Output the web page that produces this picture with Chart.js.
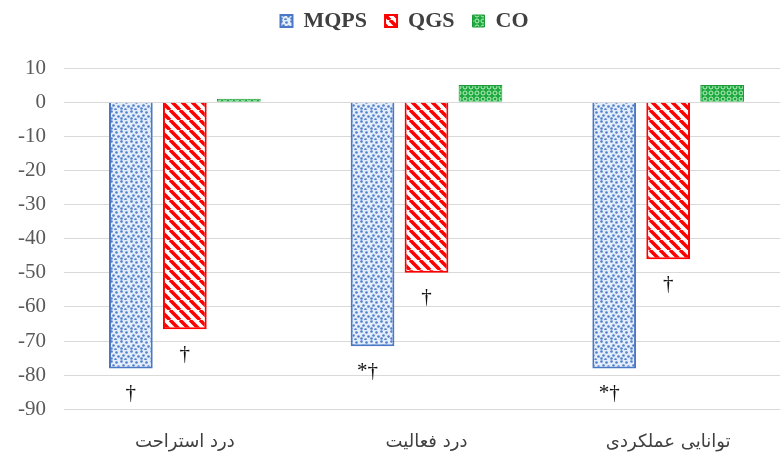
<!DOCTYPE html>
<html lang="fa">
<head>
    <meta charset="UTF-8">
    <title>MQPS / QGS / CO</title>
    <script src="https://cdn.jsdelivr.net/npm/chart.js"></script>
    <style>
        html, body { margin: 0; padding: 0; background: #fff; overflow: hidden; }
        .chart-box { width: 780px; height: 459px; overflow: hidden; }
    </style>
</head>
<body>
    <div class="chart-box">
        <!-- el área del gráfico sigue un poco más allá del borde derecho, como en el original -->
        <canvas id="painChart" width="789" height="459"></canvas>
    </div>

    <script>
        // Datos
        const categories = ['درد استراحت', 'درد فعالیت', 'توانایی عملکردی'];
        const mqpsValues = [-78, -71.5, -78];
        const qgsValues = [-66.5, -50, -46];
        const coValues = [1, 5, 5];
        const mqpsMarks = ['†', '*†', '*†'];
        const qgsMarks = ['†', '†', '†'];
        const yTicks = { min: -90, max: 10, step: 10 };

        // Patrones de relleno
        function dotPattern() {
            const c = document.createElement('canvas');
            c.width = 10; c.height = 10;
            const g = c.getContext('2d');
            g.fillStyle = '#e4edf9';
            g.fillRect(0, 0, 10, 10);
            g.fillStyle = '#4f7fc9';
            [[1, 1], [6, 2], [3, 5], [8, 6], [1, 8], [5, 9]].forEach(p => {
                g.beginPath();
                g.arc(p[0] + 0.5, p[1] + 0.5, 1.3, 0, Math.PI * 2);
                g.fill();
            });
            return g.createPattern(c, 'repeat');
        }

        function stripePattern() {
            const c = document.createElement('canvas');
            c.width = 10; c.height = 10;
            const g = c.getContext('2d');
            g.fillStyle = '#ffffff';
            g.fillRect(0, 0, 10, 10);
            g.strokeStyle = '#ff0000';
            g.lineWidth = 3.5;
            [-10, 0, 10].forEach(o => {
                g.beginPath();
                g.moveTo(o, 0);
                g.lineTo(o + 10, 10);
                g.stroke();
            });
            return g.createPattern(c, 'repeat');
        }

        function greenPattern() {
            const c = document.createElement('canvas');
            c.width = 6; c.height = 6;
            const g = c.getContext('2d');
            g.fillStyle = '#1eaa3f';
            g.fillRect(0, 0, 6, 6);
            g.strokeStyle = '#bdeec4';
            g.lineWidth = 1;
            g.beginPath();
            g.arc(3, 3, 2, 0, Math.PI * 2);
            g.stroke();
            return g.createPattern(c, 'repeat');
        }

        // Marcas bajo las barras (†, *†)
        const marksPlugin = {
            id: 'marks',
            afterDatasetsDraw(chart) {
                const ctx = chart.ctx;
                const sets = [[0, mqpsMarks], [1, qgsMarks]];
                ctx.save();
                ctx.fillStyle = '#111';
                ctx.font = '21px "Liberation Serif", serif';
                ctx.textAlign = 'center';
                ctx.textBaseline = 'middle';
                sets.forEach(([idx, marks]) => {
                    const meta = chart.getDatasetMeta(idx);
                    meta.data.forEach((bar, i) => {
                        const txt = marks[i];
                        if (!txt) return;
                        const shift = txt.length > 1 ? -5 : 0;
                        ctx.fillText(txt, bar.x + shift, bar.y + 25);
                    });
                });
                ctx.restore();
            }
        };

        // Espacio extra bajo la leyenda y leyenda algo a la derecha
        const legendGap = {
            id: 'legendGap',
            beforeInit(chart) {
                const fit = chart.legend.fit;
                chart.legend.fit = function () {
                    fit.bind(chart.legend)();
                    this.height += 26;
                    if (this.lineWidths && this.lineWidths.length) {
                        this.lineWidths[0] -= 20;
                    }
                };
            }
        };

        function initChart() {
            const ctx = document.getElementById('painChart').getContext('2d');
            new Chart(ctx, {
                type: 'bar',
                data: {
                    labels: categories,
                    datasets: [{
                        label: 'MQPS',
                        data: mqpsValues,
                        backgroundColor: dotPattern(),
                        borderColor: '#4a78c6',
                        borderWidth: 2
                    }, {
                        label: 'QGS',
                        data: qgsValues,
                        backgroundColor: stripePattern(),
                        borderColor: '#ff0000',
                        borderWidth: 2
                    }, {
                        label: 'CO',
                        data: coValues,
                        backgroundColor: greenPattern(),
                        borderColor: '#1e9a38',
                        borderWidth: 1
                    }]
                },
                options: {
                    responsive: false,
                    animation: false,
                    layout: { padding: { left: 0, right: 0, top: -8, bottom: -8 } },
                    datasets: {
                        bar: { categoryPercentage: 0.67, barPercentage: 0.81 }
                    },
                    plugins: {
                        legend: {
                            position: 'top',
                            labels: {
                                boxWidth: 12,
                                boxHeight: 12,
                                padding: 18,
                                color: '#404040',
                                font: { family: '"Liberation Serif", serif', size: 22, weight: 'bold' }
                            }
                        },
                        tooltip: { enabled: false }
                    },
                    scales: {
                        x: {
                            grid: { display: false },
                            border: { display: false },
                            ticks: {
                                color: '#404040',
                                padding: 14,
                                font: { family: '"DejaVu Sans", sans-serif', size: 18 }
                            }
                        },
                        y: {
                            min: yTicks.min,
                            max: yTicks.max,
                            ticks: {
                                stepSize: yTicks.step,
                                color: '#595959',
                                padding: 18,
                                font: { family: '"Liberation Serif", serif', size: 21 }
                            },
                            grid: { color: '#d9d9d9', drawTicks: false },
                            border: { display: false }
                        }
                    }
                },
                plugins: [marksPlugin, legendGap]
            });
        }

        document.addEventListener('DOMContentLoaded', initChart);
    </script>
</body>
</html>
